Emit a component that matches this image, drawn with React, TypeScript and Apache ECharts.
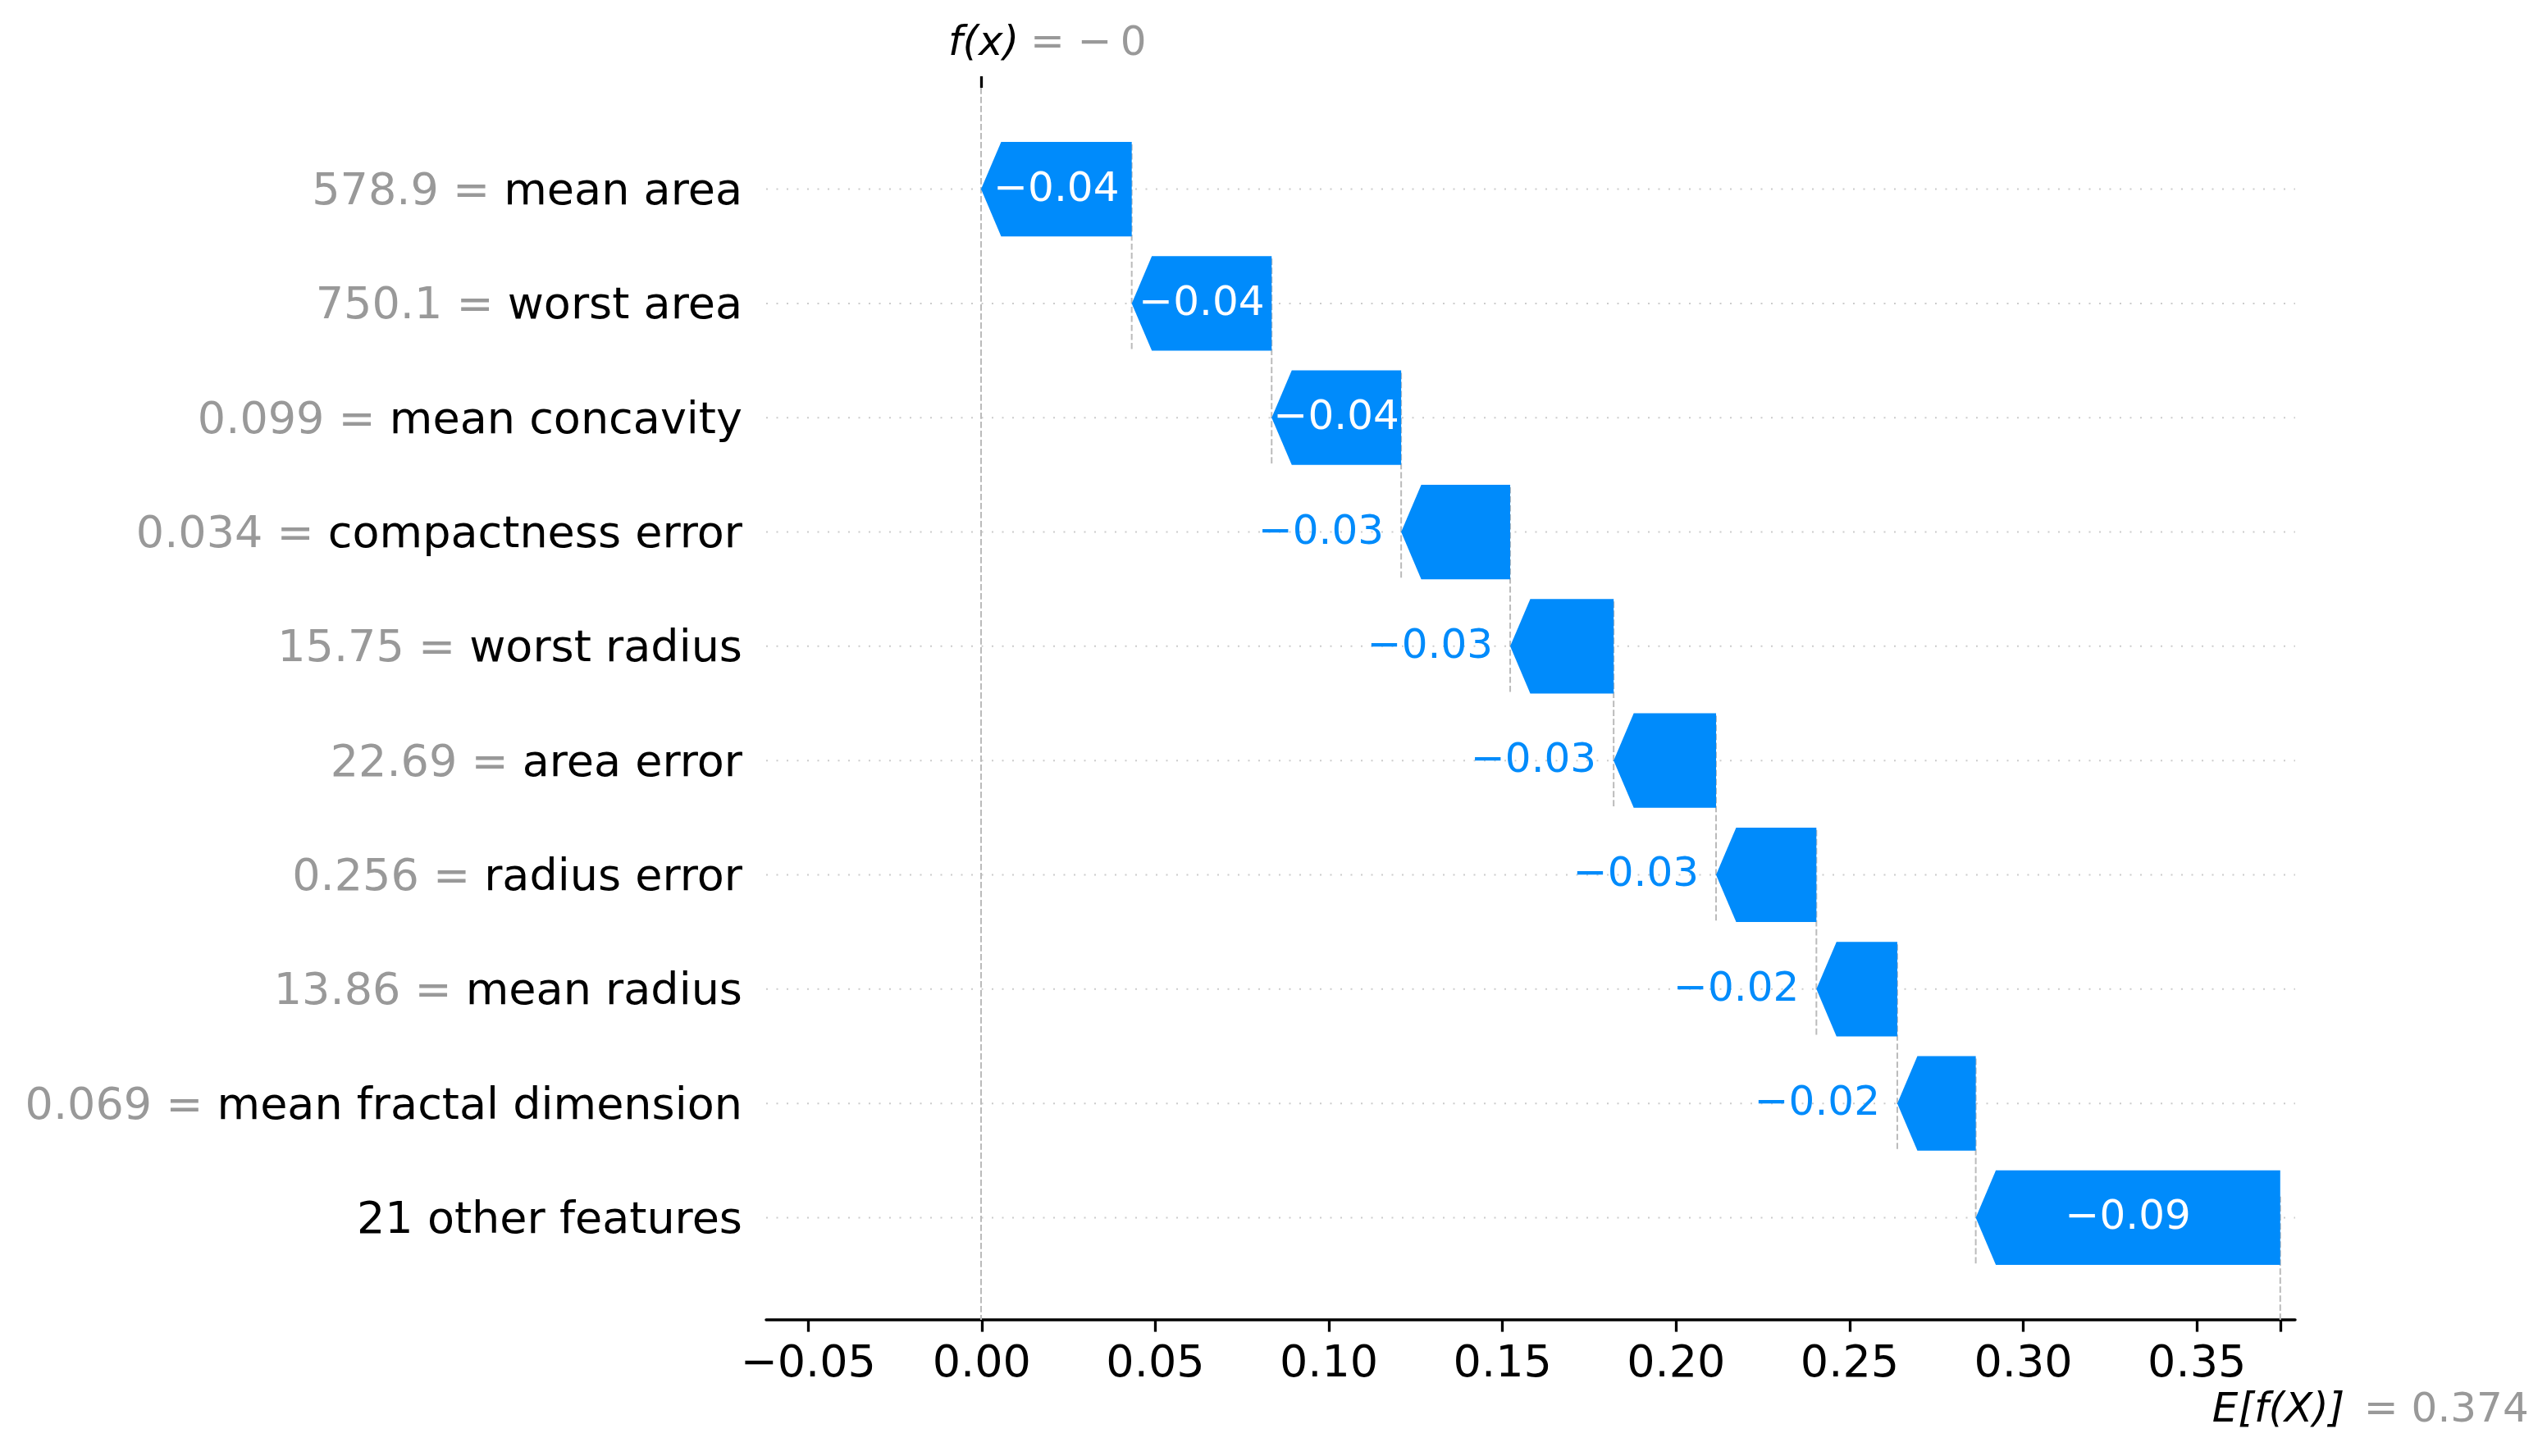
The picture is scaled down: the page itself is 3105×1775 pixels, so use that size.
import React, { useEffect, useRef } from "react";
import * as echarts from "echarts";

// ---- data ----
const featureValues = ["578.9", "750.1", "0.099", "0.034", "15.75", "22.69", "0.256", "13.86", "0.069", ""];
const featureNames = [
  "mean area",
  "worst area",
  "mean concavity",
  "compactness error",
  "worst radius",
  "area error",
  "radius error",
  "mean radius",
  "mean fractal dimension",
  "21 other features",
];
const shapValues = [-0.0434, -0.0403, -0.0373, -0.0314, -0.0298, -0.0295, -0.0289, -0.0233, -0.0226, -0.0877];
const baseValue = 0.374;
const xTickValues = [-0.05, 0, 0.05, 0.1, 0.15, 0.2, 0.25, 0.3, 0.35];

// ---- style constants ----
const FONT = "DejaVu Sans";
const BLUE = "#008bfb";
const GRAY = "#999999";
const X_MIN = -0.0621;
const X_MAX = 0.3783;
const Y_MIN = -0.887;
const Y_MAX = 9.894;
const BAR_HALF = 0.4135;
const HEAD_PX = 24.5;
const OUT_PAD = 21;
const LABEL_DY = -3;

const minus = (s: string) => s.replace("-", "\u2212");
const fmt2 = (v: number) => minus(v.toFixed(2));
const fmtStrip = (v: number, d: number) => {
  let s = v.toFixed(d);
  if (s.includes(".")) s = s.replace(/0+$/, "").replace(/\.$/, "");
  return minus(s);
};

let measureCtx: CanvasRenderingContext2D | null = null;
const measure = (t: string, size: number) => {
  if (!measureCtx) measureCtx = document.createElement("canvas").getContext("2d");
  if (!measureCtx) return t.length * size * 0.6;
  measureCtx.font = `${size}px "${FONT}"`;
  return measureCtx.measureText(t).width;
};

export default function App() {
  const ref = useRef<HTMLDivElement>(null);

  useEffect(() => {
    document.body.style.margin = "0";
    if (!ref.current) return;
    const chart = echarts.init(ref.current, undefined, { renderer: "svg" });

    const n = shapValues.length;
    const starts: number[] = [];
    const ends: number[] = [];
    for (let k = 0; k < n; k++) {
      let s = baseValue;
      for (let j = k + 1; j < n; j++) s += shapValues[j];
      starts.push(s);
      ends.push(s + shapValues[k]);
    }
    const fx = baseValue + shapValues.reduce((a, b) => a + b, 0);

    const barData = shapValues.map((v, k) => [starts[k], ends[k], k, v]);

    // guide lines: [x1, y1, x2, y2, kind]  kind 0 = dotted grid, 1 = dashed
    const guideData: number[][] = [];
    for (let k = 0; k < n; k++) guideData.push([X_MIN, k, X_MAX, k, 0]);
    for (let k = 1; k < n; k++) guideData.push([ends[k], k + 0.4, ends[k], k - 1 - 0.4, 1]);
    guideData.push([fx, Y_MIN, fx, Y_MAX, 1]);
    guideData.push([baseValue, Y_MAX, baseValue, Y_MAX - (Y_MAX - Y_MIN) / 10, 1]);

    const option: any = {
      animation: false,
      textStyle: { fontFamily: FONT },
      grid: { left: 934, right: 307, top: 107, bottom: 166, containLabel: false },
      xAxis: [
        {
          type: "value",
          min: X_MIN,
          max: X_MAX,
          position: "bottom",
          axisLine: { show: true, onZero: false, lineStyle: { color: "#000", width: 3.5 } },
          axisTick: {
            show: true,
            customValues: [...xTickValues, baseValue],
            length: 14.6,
            lineStyle: { color: "#000", width: 3.3 },
          },
          axisLabel: {
            show: true,
            customValues: xTickValues,
            formatter: (v: number) => fmt2(v),
            fontSize: 54,
            fontFamily: FONT,
            color: "#000",
            margin: 23,
          },
          splitLine: { show: false },
        },
        {
          type: "value",
          min: X_MIN,
          max: X_MAX,
          position: "top",
          axisLine: { show: false, onZero: false },
          axisTick: {
            show: true,
            customValues: [fx],
            length: 14,
            lineStyle: { color: "#000", width: 3.3 },
          },
          axisLabel: { show: false },
          splitLine: { show: false },
        },
      ],
      yAxis: {
        type: "value",
        inverse: true,
        min: Y_MIN,
        max: Y_MAX,
        axisLine: { show: false, onZero: false },
        axisTick: { show: false },
        splitLine: { show: false },
        axisLabel: {
          show: true,
          customValues: featureNames.map((_, i) => i),
          margin: 29,
          fontSize: 54,
          fontFamily: FONT,
          formatter: (v: number) => {
            const i = Math.round(v);
            const val = featureValues[i];
            return val ? `{v|${val} =}{n|${featureNames[i]}}` : `{n|${featureNames[i]}}`;
          },
          rich: {
            v: { color: GRAY, fontSize: 54, fontFamily: FONT, padding: [0, 17, 0, 0] },
            n: { color: "#000", fontSize: 54, fontFamily: FONT },
          },
        },
      },
      series: [
        {
          type: "custom",
          z: 1,
          silent: true,
          clip: false,
          data: guideData,
          encode: { x: [0, 2], y: [1, 3] },
          renderItem: (_p: any, api: any) => {
            const a = api.coord([api.value(0), api.value(1)]);
            const b = api.coord([api.value(2), api.value(3)]);
            const kind = api.value(4);
            return {
              type: "line",
              shape: { x1: a[0], y1: a[1], x2: b[0], y2: b[1] },
              style:
                kind === 0
                  ? { stroke: "#cccccc", lineWidth: 2, lineDash: [2, 10.5] }
                  : { stroke: "#bbbbbb", lineWidth: 2, lineDash: [7.7, 3.3] },
            };
          },
        },
        {
          type: "custom",
          z: 5,
          silent: true,
          clip: false,
          data: barData,
          encode: { x: [0, 1], y: 2 },
          renderItem: (_p: any, api: any) => {
            const s = api.value(0);
            const e = api.value(1);
            const row = api.value(2);
            const v = api.value(3);
            const pS = api.coord([s, row]);
            const pE = api.coord([e, row]);
            const half = Math.abs(api.size([0, BAR_HALF])[1]);
            const cy = pS[1];
            const w = Math.abs(pS[0] - pE[0]);
            const hl = Math.min(HEAD_PX, w);
            const dir = v < 0 ? 1 : -1;
            const tip = pE[0];
            const pts = [
              [pS[0], cy - half],
              [tip + dir * hl, cy - half],
              [tip, cy],
              [tip + dir * hl, cy + half],
              [pS[0], cy + half],
            ];
            const label = fmt2(v);
            const tw = measure(label, 50);
            const inside = tw <= w;
            const text = inside
              ? {
                  type: "text",
                  x: (pS[0] + pE[0]) / 2,
                  y: cy + LABEL_DY,
                  style: {
                    text: label,
                    fill: "#ffffff",
                    align: "center",
                    verticalAlign: "middle",
                    fontSize: 50,
                    fontFamily: FONT,
                  },
                }
              : {
                  type: "text",
                  x: tip - dir * OUT_PAD,
                  y: cy + LABEL_DY,
                  style: {
                    text: label,
                    fill: BLUE,
                    align: v < 0 ? "right" : "left",
                    verticalAlign: "middle",
                    fontSize: 50,
                    fontFamily: FONT,
                  },
                };
            return {
              type: "group",
              children: [
                { type: "polygon", shape: { points: pts }, style: { fill: BLUE } },
                text,
              ],
            };
          },
        },
      ],
    };

    chart.setOption(option);

    const pxF = chart.convertToPixel({ xAxisIndex: 0 }, fx) as number;
    const pxE = chart.convertToPixel({ xAxisIndex: 0 }, baseValue) as number;
    const yTop = chart.convertToPixel({ yAxisIndex: 0 }, Y_MIN) as number;
    const yBot = chart.convertToPixel({ yAxisIndex: 0 }, Y_MAX) as number;
    const base = { fontSize: 50, fontFamily: FONT, verticalAlign: "middle", align: "left" };
    chart.setOption({
      graphic: [
        { type: "text", x: pxF - 40, y: yTop - 57, style: { ...base, text: "f(x)", fontStyle: "italic", fill: "#000" } },
        { type: "text", x: pxF + 60, y: yTop - 57, style: { ...base, text: "= \u2212\u2009" + fmtStrip(fx, 3).replace("\u2212", ""), fill: GRAY } },
        { type: "text", x: pxE - 83, y: yBot + 107, style: { ...base, text: "E[f(X)]", fontStyle: "italic", fill: "#000" } },
        { type: "text", x: pxE + 102, y: yBot + 107, style: { ...base, text: "= " + fmtStrip(baseValue, 3), fill: GRAY } },
      ],
    });

    return () => chart.dispose();
  }, []);

  return <div ref={ref} style={{ width: 3105, height: 1775 }} />;
}
